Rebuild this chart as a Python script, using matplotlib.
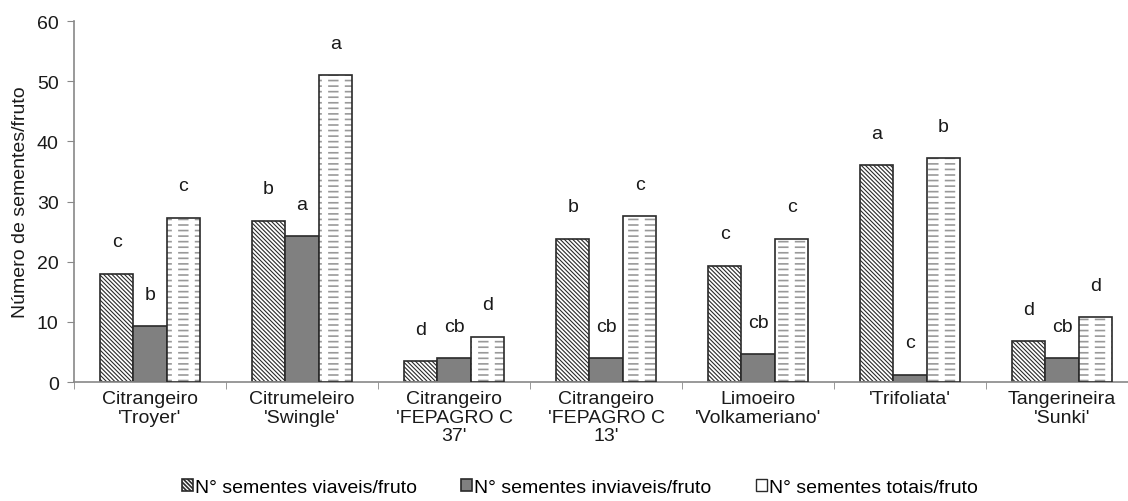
import matplotlib
matplotlib.use('Agg')
import matplotlib.pyplot as plt
import matplotlib.patches as mpatches
import numpy as np

plt.rcParams['font.family'] = ['Liberation Sans', 'DejaVu Sans']
plt.rcParams['font.size'] = 14

categorias = ["Citrangeiro\n'Troyer'", "Citrumeleiro\n'Swingle'",
              "Citrangeiro\n'FEPAGRO C\n37'", "Citrangeiro\n'FEPAGRO C\n13'",
              "Limoeiro\n'Volkameriano'", "'Trifoliata'", "Tangerineira\n'Sunki'"]
viaveis = [18.0, 26.8, 3.5, 23.8, 19.3, 36.0, 6.8]
inviaveis = [9.3, 24.2, 4.0, 4.0, 4.6, 1.2, 4.0]
totais = [27.3, 51.0, 7.5, 27.6, 23.8, 37.2, 10.8]
letras_viaveis = ['c', 'b', 'd', 'b', 'c', 'a', 'd']
letras_inviaveis = ['b', 'a', 'cb', 'cb', 'cb', 'c', 'cb']
letras_totais = ['c', 'a', 'd', 'c', 'c', 'b', 'd']
nomes = ['N° sementes viaveis/fruto', 'N° sementes inviaveis/fruto',
         'N° sementes totais/fruto']

fig = plt.figure(figsize=(11.28, 5.02), dpi=100)
ax = fig.add_axes([0.0656, 0.237, 0.9434, 0.719])

x = np.arange(len(categorias))
w = 0.22
edge = '#2a2a2a'
txt = '#1a1a1a'

plt.rcParams['hatch.linewidth'] = 0.8
b1 = ax.bar(x - w, viaveis, w, color='white', edgecolor=edge, hatch='\\' * 8,
            linewidth=1.2, label=nomes[0], zorder=2)
b2 = ax.bar(x, inviaveis, w, color='#808080', edgecolor=edge,
            linewidth=1.2, label=nomes[1], zorder=2)

# dashed fill: gray horizontal lines broken by white vertical lines
plt.rcParams['hatch.linewidth'] = 1.2
b3 = ax.bar(x + w, totais, w, color='white', edgecolor='#999999', hatch='---',
            linewidth=0, zorder=2)
for p in b3:
    if hasattr(p, 'set_hatch_linewidth'):
        p.set_hatch_linewidth(1.2)
with plt.rc_context({'hatch.linewidth': 4.5}):
    cut = ax.bar(x + w, totais, w, color='none', edgecolor='white', hatch='|',
                 linewidth=0, zorder=3)
    for p in cut:
        if hasattr(p, 'set_hatch_linewidth'):
            p.set_hatch_linewidth(4.5)
ax.bar(x + w, totais, w, color='none', edgecolor=edge, linewidth=1.2, zorder=4)

for serie, letras, dx in [(viaveis, letras_viaveis, -w),
                          (inviaveis, letras_inviaveis, 0),
                          (totais, letras_totais, w)]:
    for i, (v, l) in enumerate(zip(serie, letras)):
        ax.annotate(l, (x[i] + dx, v), xytext=(0, 23), textcoords='offset points',
                    ha='center', va='center', fontsize=14, color=txt)

ax.set_ylim(0, 60)
ax.set_yticks(range(0, 61, 10))
ax.set_xlim(-0.5, len(categorias) - 0.5)
ax.set_xticks(x)
ax.set_xticklabels(categorias, fontsize=14, color=txt, linespacing=1.12)
ax.set_xticks(np.arange(-0.5, len(categorias), 1), minor=True)
ax.tick_params(axis='x', which='major', length=0, pad=6)
ax.tick_params(axis='x', which='minor', length=5, color='#888888', direction='out')
ax.tick_params(axis='y', length=5, color='#888888', labelsize=14, labelcolor=txt, pad=6)
ax.set_ylabel('Número de sementes/fruto', fontsize=14, color=txt, labelpad=6)

for s in ['top', 'right']:
    ax.spines[s].set_visible(False)
for s in ['left', 'bottom']:
    ax.spines[s].set_color('#888888')
    ax.spines[s].set_linewidth(1.2)

h3 = mpatches.Patch(facecolor='white', edgecolor=edge, linewidth=1.0)
fig.legend([b1, b2, h3], nomes, loc='lower center', bbox_to_anchor=(0.514, -0.024),
           ncol=3, frameon=False, fontsize=14, handlelength=0.55, handleheight=0.55,
           handletextpad=0.1, columnspacing=2.3)

fig.savefig('out.png', dpi=100)
